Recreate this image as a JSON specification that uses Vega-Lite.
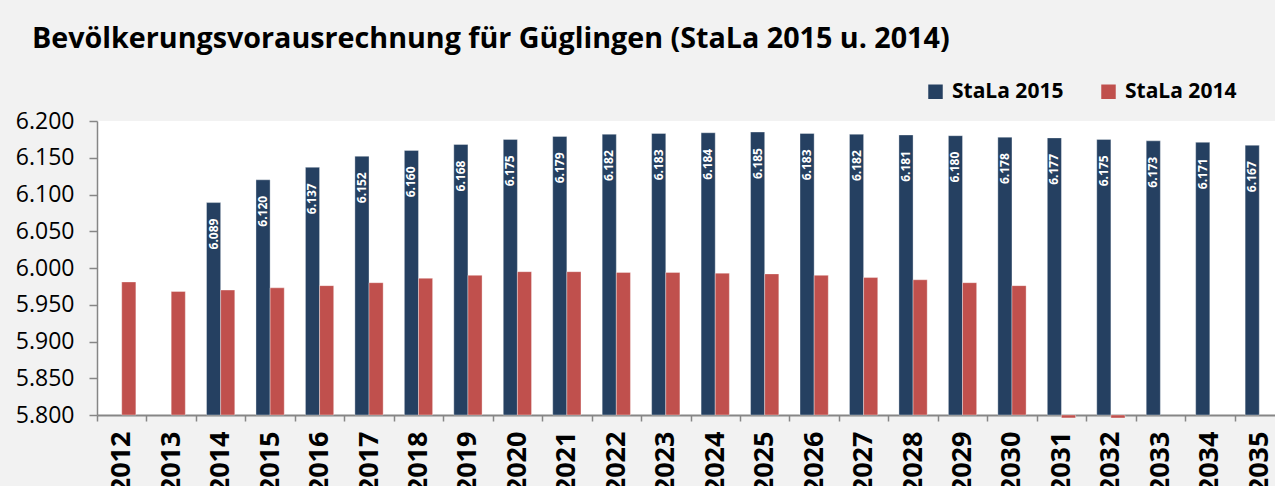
{
  "$schema": "https://vega.github.io/schema/vega-lite/v6.json",
  "autosize": "none",
  "width": 1178,
  "height": 294,
  "padding": {"left": 97, "top": 121, "right": 0, "bottom": 71},
  "background": "#f2f2f2",
  "title": {
    "text": "Bevölkerungsvorausrechnung für Güglingen (StaLa 2015 u. 2014)",
    "anchor": "start",
    "frame": "group",
    "font": "Open Sans",
    "fontSize": 28.7,
    "fontWeight": "bold",
    "color": "#000000",
    "dx": -65,
    "offset": 27
  },
  "data": {
    "values": [
      {"year": "2012", "series": "StaLa 2014", "value": 5981},
      {"year": "2013", "series": "StaLa 2014", "value": 5968},
      {"year": "2014", "series": "StaLa 2015", "value": 6089},
      {"year": "2014", "series": "StaLa 2014", "value": 5970},
      {"year": "2015", "series": "StaLa 2015", "value": 6120},
      {"year": "2015", "series": "StaLa 2014", "value": 5973},
      {"year": "2016", "series": "StaLa 2015", "value": 6137},
      {"year": "2016", "series": "StaLa 2014", "value": 5976},
      {"year": "2017", "series": "StaLa 2015", "value": 6152},
      {"year": "2017", "series": "StaLa 2014", "value": 5980},
      {"year": "2018", "series": "StaLa 2015", "value": 6160},
      {"year": "2018", "series": "StaLa 2014", "value": 5986},
      {"year": "2019", "series": "StaLa 2015", "value": 6168},
      {"year": "2019", "series": "StaLa 2014", "value": 5990},
      {"year": "2020", "series": "StaLa 2015", "value": 6175},
      {"year": "2020", "series": "StaLa 2014", "value": 5995},
      {"year": "2021", "series": "StaLa 2015", "value": 6179},
      {"year": "2021", "series": "StaLa 2014", "value": 5995},
      {"year": "2022", "series": "StaLa 2015", "value": 6182},
      {"year": "2022", "series": "StaLa 2014", "value": 5994},
      {"year": "2023", "series": "StaLa 2015", "value": 6183},
      {"year": "2023", "series": "StaLa 2014", "value": 5994},
      {"year": "2024", "series": "StaLa 2015", "value": 6184},
      {"year": "2024", "series": "StaLa 2014", "value": 5993},
      {"year": "2025", "series": "StaLa 2015", "value": 6185},
      {"year": "2025", "series": "StaLa 2014", "value": 5992},
      {"year": "2026", "series": "StaLa 2015", "value": 6183},
      {"year": "2026", "series": "StaLa 2014", "value": 5990},
      {"year": "2027", "series": "StaLa 2015", "value": 6182},
      {"year": "2027", "series": "StaLa 2014", "value": 5987},
      {"year": "2028", "series": "StaLa 2015", "value": 6181},
      {"year": "2028", "series": "StaLa 2014", "value": 5984},
      {"year": "2029", "series": "StaLa 2015", "value": 6180},
      {"year": "2029", "series": "StaLa 2014", "value": 5980},
      {"year": "2030", "series": "StaLa 2015", "value": 6178},
      {"year": "2030", "series": "StaLa 2014", "value": 5976},
      {"year": "2031", "series": "StaLa 2015", "value": 6177},
      {"year": "2031", "series": "StaLa 2014", "value": 5796},
      {"year": "2032", "series": "StaLa 2015", "value": 6175},
      {"year": "2032", "series": "StaLa 2014", "value": 5796},
      {"year": "2033", "series": "StaLa 2015", "value": 6173},
      {"year": "2034", "series": "StaLa 2015", "value": 6171},
      {"year": "2035", "series": "StaLa 2015", "value": 6167}
    ]
  },
  "encoding": {
    "x": {
      "field": "year",
      "type": "ordinal",
      "scale": {"type": "band", "paddingInner": 0, "paddingOuter": 0, "range": [0, 1187]},
      "axis": {
        "title": null,
        "labelAngle": 270,
        "labelAlign": "right",
        "labelBaseline": "middle",
        "labelFont": "Open Sans",
        "labelFontSize": 27,
        "labelFontWeight": "bold",
        "labelColor": "#000000",
        "labelPadding": 10,
        "labelOverlap": false,
        "tickBand": "extent",
        "tickSize": 6,
        "tickColor": "#868686",
        "tickWidth": 1.5,
        "domainColor": "#868686",
        "domainWidth": 2
      }
    },
    "xOffset": {
      "field": "series",
      "type": "nominal",
      "scale": {"domain": ["StaLa 2015", "StaLa 2014"], "paddingInner": 0, "paddingOuter": 0.75}
    },
    "y": {
      "field": "value",
      "type": "quantitative",
      "scale": {"domain": [5800, 6200], "zero": false, "nice": false},
      "axis": {
        "title": null,
        "values": [5800, 5850, 5900, 5950, 6000, 6050, 6100, 6150, 6200],
        "format": ",.0f",
        "grid": false,
        "labelFont": "Open Sans",
        "labelFontSize": 23,
        "labelColor": "#000000",
        "labelPadding": 15,
        "tickSize": 8,
        "tickColor": "#868686",
        "tickWidth": 1.5,
        "domainColor": "#868686",
        "domainWidth": 1.5
      }
    }
  },
  "layer": [
    {
      "mark": {"type": "bar", "clip": false, "stroke": "#ffffff", "strokeOpacity": 0.35, "strokeWidth": 1},
      "encoding": {
        "y2": {"datum": 5800},
        "color": {
          "field": "series",
          "type": "nominal",
          "scale": {"domain": ["StaLa 2015", "StaLa 2014"], "range": ["#254061", "#c0504d"]},
          "legend": {
            "title": null,
            "orient": "none",
            "legendX": 828,
            "legendY": -40,
            "direction": "horizontal",
            "symbolType": "square",
            "symbolSize": 210,
            "symbolStrokeWidth": 0,
            "labelFont": "Open Sans",
            "labelFontSize": 21,
            "labelFontWeight": "bold",
            "labelColor": "#000000",
            "labelOffset": 6,
            "columnPadding": 34
          }
        }
      }
    },
    {
      "transform": [{"filter": "datum.series == 'StaLa 2015'"}],
      "mark": {
        "type": "text",
        "angle": 270,
        "align": "right",
        "baseline": "middle",
        "dx": -16,
        "font": "Open Sans",
        "fontSize": 12,
        "fontWeight": "bold",
        "color": "#ffffff"
      },
      "encoding": {
        "text": {"field": "value", "type": "quantitative", "format": ",.0f"}
      }
    }
  ],
  "config": {
    "locale": {
      "number": {"decimal": ",", "thousands": ".", "grouping": [3], "currency": ["", " €"]}
    },
    "view": {"fill": "#ffffff", "stroke": null}
  }
}
